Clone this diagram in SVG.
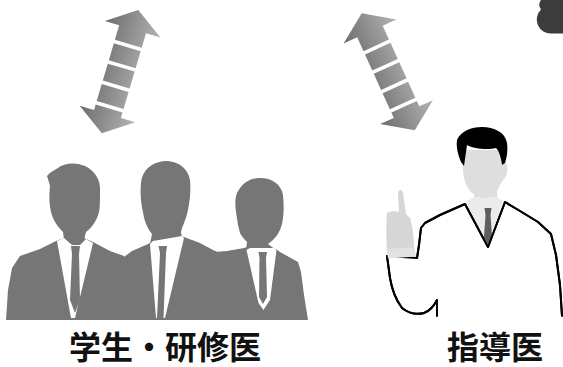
<svg xmlns="http://www.w3.org/2000/svg" width="563" height="367" viewBox="0 0 563 367">
  <defs>
    <linearGradient id="arrowShade" gradientUnits="userSpaceOnUse" x1="-29" y1="0" x2="29" y2="0">
      <stop offset="0" stop-color="#6c6c6c"/>
      <stop offset="1" stop-color="#b4b4b4"/>
    </linearGradient>
    <g id="dblArrow">
      <path d="M0,0 L29,20 L14,20 L14,35.2 L-14,35.2 L-14,20 L-29,20 Z"/>
      <rect x="-14" y="38.8" width="28" height="17.7"/>
      <rect x="-14" y="60.1" width="28" height="17.7"/>
      <rect x="-14" y="81.4" width="28" height="17.7"/>
      <path d="M-14,102.7 L14,102.7 L14,108.5 L29,108.5 L0,128.5 L-29,108.5 L-14,108.5 Z"/>
    </g>
  </defs>
  <style>
    .silhouette { fill: #767676; }
    .shirt { fill: #ffffff; }
    .sweater { fill: #ffffff; stroke: #000000; stroke-width: 2; stroke-linejoin: round; stroke-linecap: round; }
    .outline { fill: none; stroke: #000000; stroke-width: 2; stroke-linejoin: round; stroke-linecap: round; }
    .skin { fill: #dedede; }
    .label { font-family: "Noto Sans CJK JP", "Noto Sans CJK SC", sans-serif; font-weight: bold; font-size: 32px; fill: #111111; text-anchor: middle; }
  </style>

  <rect width="563" height="367" fill="#ffffff"/>

  <!-- two-way arrows -->
  <g id="connectors" fill="url(#arrowShade)">
    <use href="#dblArrow" transform="translate(138.3,10) rotate(16.5)"/>
    <use href="#dblArrow" transform="translate(361.7,13.3) rotate(-24.4)"/>
  </g>

  <!-- dark shape at the top-right edge -->
  <path d="M563,33.5 L551,33.5 A14,14 0 0 1 541,9.5 A7,7 0 0 1 552,0 L563,0 Z" fill="#3c3c3c"/>

  <!-- students / residents -->
  <g id="students">
    <g id="student1">
      <path class="silhouette" d="M6,320 L8,290 L12,268 L20,256 L40,249 L56,241 L64,238 L84,238 L93,242 L110,251 L124,256 L130,320 Z"/>
      <path class="silhouette" d="M47,176 C50,172 55,170 58,168 C64,163 75,162 85,166 C95,171 101,180 100,192 C100,200 100,208 99,212 C97,220 92,228 86,232 L84,240 L64,240 L63,232 C57,226 53,220 51,212 C49,204 49,195 50,186 C49,182 48,179 47,176 Z"/>
      <path class="shirt" d="M57,241 L64,238 L72,245 L80,245 L86,239 L93,243 L75,318 L71,318 Z"/>
      <path class="silhouette" d="M71,246 L80,246 L79,254 L80,300 L75,313 L70,300 L72,254 Z"/>
    </g>
    <g id="student2">
      <path class="silhouette" d="M105,320 L110,255 L124,257 L132,251 L148,244 L152,242 L181,236 L184,237 L200,243 L213,250 L222,254 L238,320 Z"/>
      <path class="silhouette" d="M141,183 C142,170 152,162 165,161 C178,161 188,168 190,180 C191,190 190,202 187,214 C185,222 181,229 181,233 L183,240 L150,244 L152,234 C147,228 144,220 143,212 C141,204 140,193 141,183 Z"/>
      <path class="shirt" d="M150,244 L153,241 L182,236 L184,238 L165,318 L156,318 Z"/>
      <path class="silhouette" d="M158.5,246 L167,246 L166,253 L163.5,318 L157,318 L160,253 Z"/>
    </g>
    <g id="student3">
      <path class="silhouette" d="M200,248 L215,252 L227,251 L244,248 L247,247 L276,249 L280,252 L298,262 L301,272 L304,295 L308,320 L215,320 Z"/>
      <path class="silhouette" d="M237,193 C242,183 250,178 260,178 C272,178 281,184 283,195 C284,205 284,215 282,224 C280,233 274,240 268,244 L276,250 L246,250 L247,242 C243,238 241,235 240,233 L238,225 L236,212 C235,205 235,198 237,193 Z"/>
      <path class="shirt" d="M246.5,250 L250,248 L274,248 L276.5,250 L270,300 L263.5,310 L258.5,303 Z"/>
      <path class="silhouette" d="M258.5,252 L267,252 L266,258 L267,297 L263,304 L259,297 L259.5,258 Z"/>
    </g>
  </g>

  <!-- supervising doctor -->
  <g id="doctor">
    <path class="sweater" d="M417,258 L419,245 L421,228 L425,223 L440,215 L465,204 L488,247 L505,202 L520,211 L538,222 L551,234 L556,255 L560,285 L562,316 L563,320 L437,320 L437,300 Q432,310 424,313 Q412,316 402,308 Q393,296 390,278 L387,256 Z"/>
    <rect x="380" y="316" width="190" height="10" fill="#ffffff"/>
    <path class="outline" d="M437,316 L437,300 Q432,310 424,313 Q412,316 402,308 Q393,296 390,278 L387,256"/>
    <path class="skin" d="M474,192 L474,206 L498,206 L497,192 Z"/>
    <path fill="#ebebeb" d="M466,201 L475,197 L496,197 L503,201 L488,246 Z"/>
    <path fill="#5e5e5e" d="M484.5,208 L491.5,208 L490.5,215 L492,237 L488,245 L484,237 L485.5,215 Z"/>
    <path class="outline" d="M417,258 L419,245 L421,228 L425,223 L440,215 L465,204 L488,247 L505,202 L520,211 L538,222 L551,234 L556,255 L560,285 L562,316"/>
    <path class="skin" d="M463,160 C462,172 464,182 468,188 C471,193 476,197 485,198 C492,198 497,193 499,187 L503,180 C506,178 508,172 507,166 C506,162 504,160 503,160 L500,150 L466,150 Z"/>
    <path fill="#000000" d="M457,140 C461,131 471,127 482,127 C494,127 505,132 507,143 C508,150 507,157 505,163 L502,165 C501,157 499,151 496,148 C488,150 474,149 467,145 C466,152 465,159 464,166 L461,162 C458,155 456,147 457,140 Z"/>
    <path fill="#d6d6d6" d="M387,213 C391,211 395,211 399,212 L398,194 C398,189 402,189 403,193 L406,214 L410,218 C413,228 414,238 414,249 L387,250 C386,238 386,224 387,213 Z"/>
    <path fill="#e2e2e2" d="M386.5,249 L414.5,247 L416,256.5 L388,258.5 Z"/>
  </g>

  <text class="label" x="165" y="359">学生・研修医</text>
  <text class="label" x="495" y="359">指導医</text>
</svg>
